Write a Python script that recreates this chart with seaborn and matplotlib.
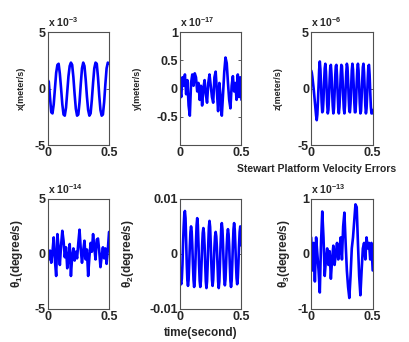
#!/usr/bin/env python3

import seaborn as sns
import pandas as pd
import matplotlib.pyplot as plt
import numpy as np

sns.set_theme(style="ticks")
plt.rcParams.update({
    'font.family': ['Liberation Sans', 'DejaVu Sans'],
    'font.weight': 'bold',
    'mathtext.fontset': 'custom',
    'mathtext.rm': 'Liberation Sans:bold',
    'mathtext.it': 'Liberation Sans:bold',
    'mathtext.bf': 'Liberation Sans:bold',
})

# time grids (s)
t_coarse = np.round(np.linspace(0, 0.5, 51), 3)
t_fine = np.round(np.linspace(0, 0.5, 101), 3)

# x velocity error (x 10^-3 meter/s)
x_err = [0.8, 0.6, -0.8, -2.1, -2.2, -1.4, 0.0, 1.4, 2.1, 2.2,
         1.3, 0.0, -1.4, -2.3, -2.4, -1.7, -0.3, 1.1, 2.0, 2.3,
         2.1, 1.0, -0.5, -1.8, -2.4, -2.3, -1.2, 0.4, 1.8, 2.3,
         2.0, 0.8, -0.7, -1.9, -2.4, -2.2, -1.0, 0.5, 1.8, 2.3,
         2.2, 1.0, -0.6, -1.9, -2.4, -2.3, -1.2, 0.4, 1.8, 2.3, 2.2]

# y velocity error (x 10^-17 meter/s)
y_err = [0.0, -0.15, 0.2, 0.05, 0.25, -0.1, 0.15, -0.3, -0.48, 0.1,
         0.25, 0.05, 0.27, 0.2, -0.05, 0.1, -0.2, 0.05, -0.3, 0.0,
         0.15, -0.1, -0.25, 0.1, 0.25, 0.05, -0.15, -0.25, 0.2, 0.3,
         -0.05, -0.4, 0.1, -0.15, -0.48, -0.1, 0.3, 0.55, 0.45, 0.1,
         -0.2, -0.35, 0.05, 0.22, -0.05, 0.1, -0.2, 0.25, -0.15, 0.2, -0.2]

# z velocity error (x 10^-6 meter/s)
z_err = [1.6, 1.4, 1.0, 0.5, 0.0, -0.6, -1.2, -1.8, -2.4, -2.8,
         -2.3, -1.1, 0.3, 1.7, 2.4, 1.7, 0.3, -1.2, -2.1, -2.0,
         -1.0, 0.6, 1.8, 2.2, 1.5, 0.1, -1.4, -2.2, -1.9, -0.7,
         0.8, 1.9, 2.1, 1.3, -0.2, -1.5, -2.2, -1.8, -0.5, 1.0,
         2.0, 2.1, 1.1, -0.4, -1.7, -2.2, -1.6, -0.3, 1.2, 2.1,
         2.0, 0.9, -0.6, -1.8, -2.2, -1.5, 0.0, 1.4, 2.2, 1.9,
         0.7, -0.9, -2.0, -2.1, -1.3, 0.2, 1.6, 2.2, 1.7, 0.4,
         -1.1, -2.1, -2.1, -1.1, 0.5, 1.7, 2.2, 1.6, 0.2, -1.3,
         -2.2, -2.0, -0.8, 0.7, 1.9, 2.2, 1.4, 0.0, -1.5, -2.2,
         -1.8, -0.6, 0.9, 2.0, 2.1, 1.2, -0.3, -1.6, -2.2, -2.2, -1.9]

# theta1 rate error (x 10^-14 degree/s)
th1_err = [0.5, -0.5, 0.3, -0.8, 0.2, 1.5, -0.6, -2.0, 1.8, 0.5,
           -1.0, 0.8, 2.1, 1.2, -0.3, 0.6, -1.3, -0.4, 0.9, -2.0,
           -0.2, 0.5, -0.6, 0.2, -0.4, 1.0, 2.2, 0.4, -0.8, 0.3,
           1.2, -0.5, 0.4, -2.0, -0.3, 1.0, 0.2, 1.8, 0.6, -0.5,
           1.3, 1.4, 0.3, -1.2, -0.2, 0.6, -0.4, 0.5, -0.9, 0.4, 2.0]

# theta2 rate error (degree/s)
th2_err = [-0.0040, -0.0050, -0.0055, -0.0045, -0.0020, 0.0020, 0.0050, 0.0072, 0.0078, 0.0065,
           0.0025, -0.0018, -0.0048, -0.0058, -0.0047, -0.0018, 0.0015, 0.0040, 0.0050, 0.0041,
           0.0015, -0.0018, -0.0047, -0.0060, -0.0049, -0.0019, 0.0020, 0.0052, 0.0065, 0.0053,
           0.0020, -0.0019, -0.0049, -0.0060, -0.0049, -0.0019, 0.0015, 0.0038, 0.0047, 0.0038,
           0.0015, -0.0019, -0.0050, -0.0062, -0.0050, -0.0019, 0.0019, 0.0049, 0.0060, 0.0049,
           0.0019, -0.0018, -0.0047, -0.0058, -0.0047, -0.0018, 0.0012, 0.0032, 0.0040, 0.0032,
           0.0012, -0.0019, -0.0050, -0.0062, -0.0050, -0.0019, 0.0017, 0.0045, 0.0056, 0.0045,
           0.0017, -0.0018, -0.0046, -0.0057, -0.0046, -0.0018, 0.0014, 0.0036, 0.0045, 0.0036,
           0.0014, -0.0019, -0.0049, -0.0060, -0.0049, -0.0019, 0.0017, 0.0045, 0.0056, 0.0045,
           0.0017, -0.0017, -0.0044, -0.0055, -0.0044, -0.0017, 0.0015, 0.0040, 0.0050, 0.0040, 0.0015]

# theta3 rate error (x 10^-13 degree/s)
th3_err = [0.3, -0.3, 0.2, -0.5, 0.3, 0.0, -0.3, -0.7, 0.2, 0.77,
           0.3, -0.4, -0.1, 0.1, -0.2, 0.05, -0.45, -0.1, 0.15, -0.2,
           0.0, 0.2, -0.1, 0.1, 0.3, -0.1, 0.5, 0.75, 0.2, -0.3,
           -0.6, -0.8, -0.4, 0.1, 0.3, 0.6, 0.9, 0.85, 0.2, -0.4,
           -0.75, -0.3, 0.1, 0.2, -0.1, 0.3, 0.1, 0.2, -0.1, 0.2, -0.3]

panels = [
    dict(t=t_coarse, v=x_err, ylabel='x(meter/s)', exp='-3', ylim=(-5, 5), yticks=[-5, 0, 5], lsize=6.5, lx=-0.42),
    dict(t=t_coarse, v=y_err, ylabel='y(meter/s)', exp='-17', ylim=(-1, 1), yticks=[-0.5, 0, 0.5, 1], lsize=6.5, lx=-0.70),
    dict(t=t_fine, v=z_err, ylabel='z(meter/s)', exp='-6', ylim=(-5, 5), yticks=[-5, 0, 5], lsize=6.5, lx=-0.53),
    dict(t=t_coarse, v=th1_err, ylabel=r'$\theta_1$(degree/s)', exp='-14', ylim=(-5, 5), yticks=[-5, 0, 5], lsize=8.5, lx=-0.50),
    dict(t=t_fine, v=th2_err, ylabel=r'$\theta_2$(degree/s)', exp=None, ylim=(-0.01, 0.01), yticks=[-0.01, 0, 0.01], lsize=8.5, lx=-0.85),
    dict(t=t_coarse, v=th3_err, ylabel=r'$\theta_3$(degree/s)', exp='-13', ylim=(-1, 1), yticks=[-1, 0, 1], lsize=8.5, lx=-0.45),
]

lefts = [0.116, 0.439, 0.759]
bottoms = [0.576, 0.0965]
heights = [0.330, 0.322]

fig = plt.figure(figsize=(4.10, 3.42), dpi=100)
for i, p in enumerate(panels):
    r, c = divmod(i, 3)
    ax = fig.add_axes([lefts[c], bottoms[r], 0.150, heights[r]])
    df = pd.DataFrame({'t': p['t'], 'v': p['v']})
    sns.lineplot(data=df, x='t', y='v', ax=ax, color='#0000ff', lw=1.9)
    ax.set_xlim(0, 0.5)
    ax.set_ylim(*p['ylim'])
    ax.set_xticks([0, 0.5])
    ax.set_xticklabels(['0', '0.5'])
    ax.set_yticks(p['yticks'])
    ax.set_yticklabels([f'{v:g}' for v in p['yticks']])
    ax.tick_params(direction='in', top=True, right=True, length=2.5, width=0.6,
                   labelsize=9, pad=1.5, color='#404040')
    for lab in ax.get_xticklabels() + ax.get_yticklabels():
        lab.set_fontweight('bold')
    for s in ax.spines.values():
        s.set_color('#505050')
        s.set_linewidth(0.8)
    ax.set_xlabel('')
    ax.set_ylabel(p['ylabel'], fontsize=p['lsize'], fontweight='bold', va='center')
    ax.yaxis.set_label_coords(p['lx'], 0.5)
    if p['exp']:
        ax.text(0.0, 1.03, 'x 10$^{' + p['exp'] + '}$', transform=ax.transAxes,
                fontsize=7.5, fontweight='bold', ha='left', va='bottom')

fig.text(0.578, 0.505, 'Stewart Platform Velocity Errors', fontsize=7.5, fontweight='bold',
         ha='left', va='center')
fig.text(0.490, 0.027, 'time(second)', fontsize=8.5, fontweight='bold', ha='center', va='center')

plt.savefig('out.png', dpi=100)
plt.close(fig)
